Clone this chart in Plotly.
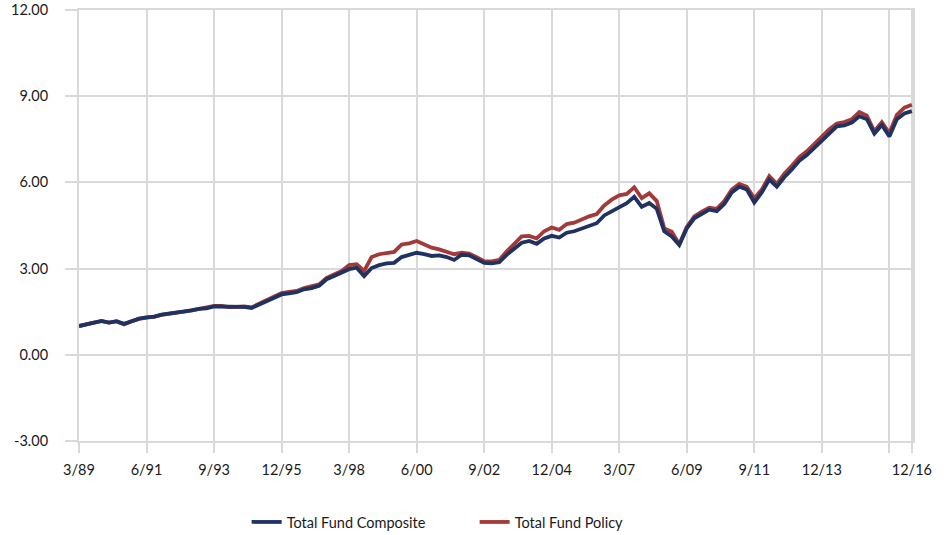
import pandas as pd
import plotly.graph_objects as go

# Quarter-end categories, 3/89 .. 12/16
quarters = pd.period_range("1989Q1", "2016Q4", freq="Q")
quarter_labels = [f"{p.quarter * 3}/{str(p.year)[2:]}" for p in quarters]

composite = [
    1.00, 1.07, 1.12, 1.18, 1.12, 1.17, 1.08, 1.18, 1.26, 1.30,
    1.33, 1.40, 1.43, 1.47, 1.51, 1.55, 1.60, 1.62, 1.68, 1.68,
    1.65, 1.66, 1.67, 1.63, 1.75, 1.88, 1.98, 2.10, 2.14, 2.18,
    2.28, 2.32, 2.40, 2.63, 2.74, 2.86, 2.98, 3.03, 2.74, 3.02,
    3.12, 3.18, 3.20, 3.40, 3.46, 3.55, 3.50, 3.44, 3.46, 3.40,
    3.30, 3.48, 3.46, 3.32, 3.20, 3.18, 3.22, 3.48, 3.68, 3.90,
    3.96, 3.86, 4.05, 4.14, 4.08, 4.25, 4.30, 4.40, 4.50, 4.58,
    4.85, 5.00, 5.13, 5.28, 5.50, 5.15, 5.28, 5.08, 4.30, 4.12,
    3.82, 4.40, 4.75, 4.90, 5.05, 5.00, 5.25, 5.65, 5.85, 5.75,
    5.30, 5.65, 6.10, 5.85, 6.18, 6.45, 6.75, 6.95, 7.20, 7.46,
    7.72, 7.95, 7.98, 8.08, 8.30, 8.20, 7.70, 8.00, 7.60, 8.20,
    8.40, 8.48,
]

policy = [
    1.00, 1.07, 1.12, 1.17, 1.12, 1.16, 1.06, 1.16, 1.25, 1.29,
    1.32, 1.39, 1.42, 1.46, 1.50, 1.55, 1.60, 1.63, 1.70, 1.70,
    1.66, 1.67, 1.68, 1.65, 1.78, 1.92, 2.03, 2.15, 2.19, 2.22,
    2.32, 2.37, 2.45, 2.68, 2.79, 2.92, 3.12, 3.15, 2.92, 3.40,
    3.50, 3.55, 3.58, 3.84, 3.88, 3.96, 3.85, 3.73, 3.67, 3.60,
    3.50, 3.55, 3.52, 3.40, 3.26, 3.25, 3.30, 3.60, 3.85, 4.12,
    4.14, 4.05, 4.30, 4.43, 4.35, 4.55, 4.60, 4.72, 4.82, 4.90,
    5.20, 5.40, 5.55, 5.60, 5.83, 5.45, 5.62, 5.35, 4.40, 4.28,
    3.85, 4.45, 4.82, 4.98, 5.12, 5.08, 5.35, 5.75, 5.95, 5.85,
    5.45, 5.75, 6.22, 5.95, 6.30, 6.58, 6.88, 7.08, 7.34, 7.58,
    7.85, 8.05, 8.10, 8.20, 8.45, 8.32, 7.78, 8.10, 7.72, 8.35,
    8.60, 8.70,
]

y_ticks = [-3, 0, 3, 6, 9, 12]
x_tick_labels = ["3/89", "6/91", "9/93", "12/95", "3/98", "6/00", "9/02",
                 "12/04", "3/07", "6/09", "9/11", "12/13", "", "12/16"]

BLUE = "#1F3262"
RED = "#A33A3A"
GRID = "#D9D9D9"
FONT = "Lato"
TXT = "#1A1A1A"

idx = list(range(len(quarter_labels)))
tickvals = [quarter_labels.index(t) if t else quarter_labels.index("3/16") for t in x_tick_labels]

fig = go.Figure()
fig.add_trace(go.Scatter(
    x=idx, y=policy, name="Total Fund Policy", mode="lines",
    line=dict(color=RED, width=3.8), legendrank=2,
    customdata=quarter_labels, hovertemplate="%{customdata}: %{y:.2f}<extra>Total Fund Policy</extra>",
))
fig.add_trace(go.Scatter(
    x=idx, y=composite, name="Total Fund Composite", mode="lines",
    line=dict(color=BLUE, width=3.8), legendrank=1,
    customdata=quarter_labels, hovertemplate="%{customdata}: %{y:.2f}<extra>Total Fund Composite</extra>",
))

fig.update_layout(
    width=946, height=535,
    margin=dict(l=79, r=33, t=10, b=94, autoexpand=False),
    paper_bgcolor="white", plot_bgcolor="white",
    font=dict(family=FONT, size=14.5, color=TXT),
    showlegend=True,
    legend=dict(orientation="h", x=0.201, xanchor="left", y=-0.188, yanchor="middle",
                font=dict(family=FONT, size=14.5, color=TXT), itemwidth=30,
                entrywidth=183),
    xaxis=dict(
        range=[0, 111.15], tickmode="array", tickvals=tickvals, ticktext=x_tick_labels,
        showgrid=True, gridcolor=GRID, gridwidth=2,
        showline=True, linecolor=GRID, linewidth=2, mirror=True,
        ticks="outside", ticklen=10, tickwidth=2, tickcolor=GRID,
        zeroline=False, tickangle=0, automargin=False, ticklabelstandoff=5,
        ticklabeloverflow="allow",
    ),
    yaxis=dict(
        range=[-3.0005, 12.0005], tickmode="array", tickvals=y_ticks,
        ticktext=[f"{v:.2f}" for v in y_ticks],
        showgrid=True, gridcolor=GRID, gridwidth=2,
        showline=True, linecolor=GRID, linewidth=2, mirror=True,
        ticks="outside", ticklen=12, tickwidth=2, tickcolor=GRID,
        zeroline=False, ticklabelstandoff=14, automargin=False,
        ticklabeloverflow="allow",
    ),
)

fig.write_html("out.html", config={"displayModeBar": False},
               post_script="document.body.style.margin='0';")
